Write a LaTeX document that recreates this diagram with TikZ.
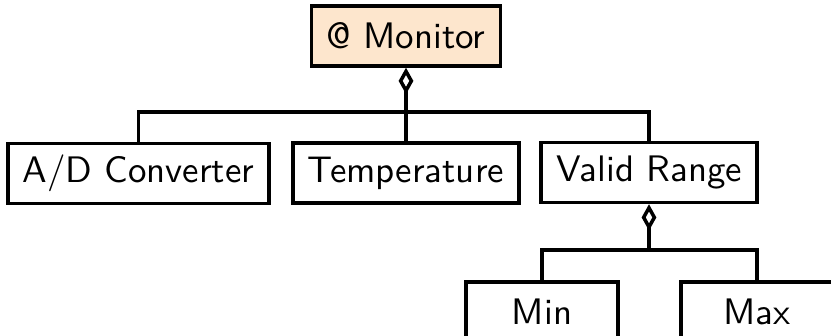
\documentclass[tikz,border=0pt]{standalone}
\usepackage{xcolor}
\usetikzlibrary{arrows.meta}
\usetikzlibrary{math}
\definecolor{mypeach}{RGB}{253,230,205}

\begin{document}
\begin{tikzpicture}[scale=1,
  box/.style={draw, line width=1pt, font=\fontsize{10.5}{12}\sffamily, minimum height=0.6cm, inner xsep=0.15cm},
  leaf/.style={box, minimum width=1.52cm},
  agg/.style={line width=1pt, {Diamond[open,length=7.5pt,width=4.2pt]}-}]
\tikzmath{
\xm=4.06;
\xv=6.49;
\ya=-1.12;
\yb=-2.50;
}
\useasboundingbox (0,0) rectangle (8.31,-3.36);
\begin{scope}
\clip (0,0) rectangle (8.31,-3.36);
\coordinate (busA) at (\xm,\ya);
\coordinate (busB) at (\xv,\yb);

\node[box, fill=mypeach] (monitor) at (\xm,-0.36) {@ Monitor};
\node[box] (adconv) at (1.385,-1.735) {A/D Converter};
\node[box] (temp) at (\xm,-1.73) {Temperature};
\node[box] (valid) at (\xv,-1.725) {Valid Range};
\node[leaf] (min) at (5.42,-3.12) {Min};
\node[leaf] (max) at (7.57,-3.12) {Max};

\draw[agg] (monitor.south) -- (temp.north);
\draw[line width=1pt] (adconv.north) |- (busA) -| (valid.north);
\draw[agg] (valid.south) -- (busB);
\draw[line width=1pt] (min.north) |- (busB) -| (max.north);
\end{scope}
\end{tikzpicture}
\end{document}
